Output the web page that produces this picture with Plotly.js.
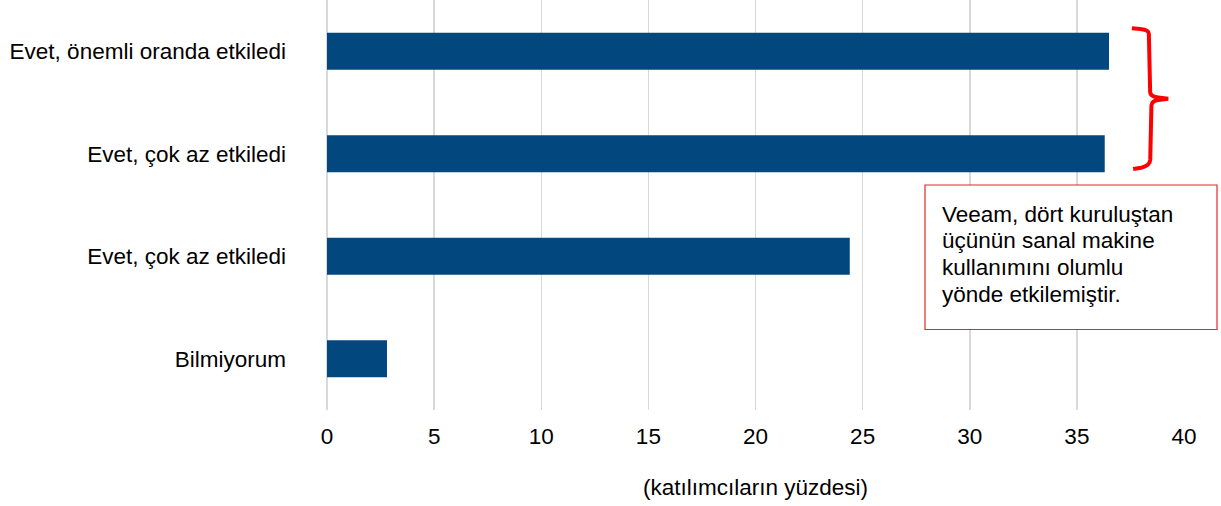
<!DOCTYPE html>
<html>
<head>
<meta charset="utf-8">
<script src="https://cdn.plot.ly/plotly-3.0.1.min.js"></script>
<style>html,body{margin:0;padding:0;background:#fff;}#chart{width:1221px;height:506px;}</style>
</head>
<body>
<div id="chart"></div>
<script>
const categories = ["Evet, önemli oranda etkiledi", "Evet, çok az etkiledi", "Evet, çok az etkiledi", "Bilmiyorum"];
const values = [36.5, 36.3, 24.4, 2.8];
const xTicks = [0, 5, 10, 15, 20, 25, 30, 35, 40];
const xTitle = "(katılımcıların yüzdesi)";
const noteLines = ["Veeam, dört kuruluştan", "üçünün sanal makine", "kullanımını olumlu", "yönde etkilemiştir."];

const positions = categories.map((_, i) => i);
const FONT = "Liberation Sans, Arial, sans-serif";
const FS = 22.5;

const trace = {
  type: "bar",
  orientation: "h",
  x: values,
  y: positions,
  width: 0.36,
  marker: {color: "#03477F"},
  hoverinfo: "x"
};

const noteAnnotations = noteLines.map((t, i) => ({
  xref: "paper", yref: "paper",
  x: (940 - 327) / 857, y: 1 - (214 + i * 26.7) / 410,
  xanchor: "left", yanchor: "middle", align: "left", showarrow: false,
  text: t, font: {family: FONT, size: FS, color: "#000"}
}));

const layout = {
  width: 1221, height: 506,
  margin: {l: 327, r: 37, t: 0, b: 96, pad: 0},
  paper_bgcolor: "#fff", plot_bgcolor: "#fff",
  showlegend: false,
  font: {family: FONT, color: "#000", size: FS},
  xaxis: {
    range: [0, 40], tickvals: xTicks, ticktext: xTicks.map(String),
    showgrid: true, gridcolor: "#D9D9D9", gridwidth: 1.5,
    zeroline: true, zerolinecolor: "#D9D9D9", zerolinewidth: 1.5,
    showline: false, ticks: "", ticklabelstandoff: 10,
    tickfont: {family: FONT, size: FS, color: "#000"},
    title: {text: xTitle, font: {family: FONT, size: FS, color: "#000"}, standoff: 31},
    fixedrange: true
  },
  yaxis: {
    range: [3.5, -0.5], tickvals: positions, ticktext: categories,
    showgrid: false, zeroline: false, showline: false, ticks: "",
    ticklabelstandoff: 40,
    tickfont: {family: FONT, size: FS, color: "#000"},
    fixedrange: true
  },
  shapes: [
    {type: "rect", xref: "paper", yref: "paper",
     x0: (925 - 327) / 857, x1: (1217 - 327) / 857,
     y0: 1 - 329.5 / 410, y1: 1 - 185 / 410,
     line: {color: "#E8262A", width: 1.2}, fillcolor: "rgba(255,255,255,1)", layer: "above"},
    {type: "path", xref: "paper", yref: "paper",
     path: "M0.9392,0.9310 L0.9490,0.9290 Q0.9585,0.9270 0.9590,0.9180 L0.9605,0.7750 Q0.9610,0.7640 0.9700,0.7620 L0.9816,0.7590 L0.9700,0.7560 Q0.9625,0.7540 0.9620,0.7430 L0.9606,0.6100 Q0.9600,0.5950 0.9500,0.5910 L0.9407,0.5880",
     line: {color: "#FF0000", width: 4}, layer: "above"}
  ],
  annotations: noteAnnotations
};

Plotly.newPlot("chart", [trace], layout, {displayModeBar: false, staticPlot: true});
</script>
</body>
</html>
